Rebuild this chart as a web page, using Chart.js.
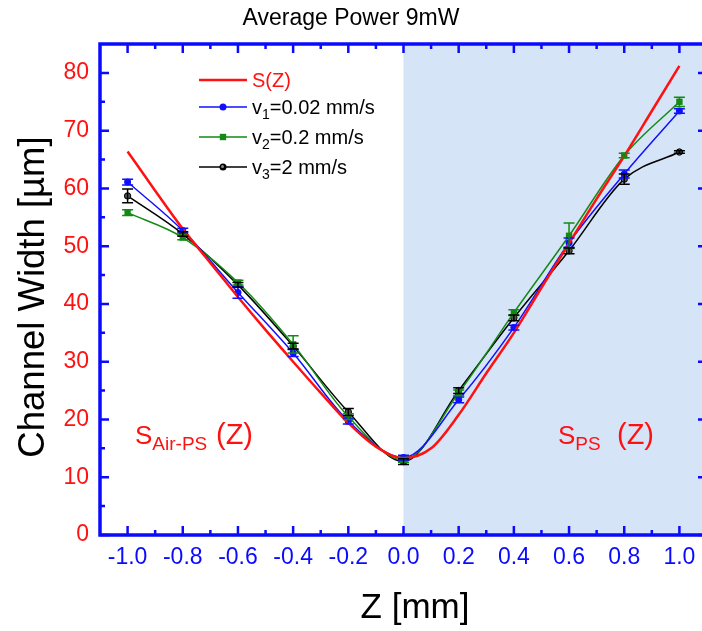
<!DOCTYPE html>
<html>
<head>
<meta charset="utf-8">
<script src="https://cdn.jsdelivr.net/npm/chart.js@4.4.1/dist/chart.umd.min.js"></script>
<style>
  html, body { margin: 0; padding: 0; background: #ffffff; overflow: hidden; width: 702px; height: 631px; }
  #wrap { width: 702px; height: 631px; position: relative; overflow: hidden; }
  #c { position: absolute; left: 0; top: 0; }
</style>
</head>
<body>
<div id="wrap"><canvas id="c" width="712" height="631"></canvas></div>
<script>
// ---------- data ----------
const zValues = [-1.0, -0.8, -0.6, -0.4, -0.2, 0.0, 0.2, 0.4, 0.6, 0.8, 1.0];
const v1Width = [61.1, 52.7, 42.0, 31.5, 19.7, 13.4, 23.4, 35.9, 50.6, 62.5, 73.4];
const v1Err   = [0.5, 0.4, 1.0, 0.6, 0.5, 0.4, 0.5, 0.4, 0.8, 0.7, 0.4];
const v2Width = [55.8, 51.5, 43.7, 33.0, 20.5, 13.0, 24.6, 38.5, 51.8, 65.7, 75.0];
const v2Err   = [0.5, 0.4, 0.4, 1.5, 0.5, 0.4, 0.5, 0.5, 2.2, 0.4, 0.8];
const v3Width = [58.7, 52.1, 43.3, 32.7, 21.3, 12.7, 25.0, 37.6, 49.2, 61.6, 66.3];
const v3Err   = [1.2, 0.4, 0.4, 0.5, 0.6, 0.5, 0.5, 0.5, 0.5, 0.9, 0.2];

const sZ     = [-1.0, -0.9, -0.8, -0.7, -0.6, -0.5, -0.4, -0.3, -0.2, -0.1, 0.0,
                 0.1, 0.2, 0.3, 0.4, 0.5, 0.6, 0.7, 0.8, 0.9, 1.0];
const sWidth = [66.4, 59.6, 53.0, 47.1, 41.2, 35.5, 30.0, 24.6, 19.4, 15.3, 13.3,
                15.0, 20.8, 28.0, 35.0, 42.8, 50.5, 58.2, 65.6, 73.4, 81.2];

const xTickValues = [-1.0, -0.8, -0.6, -0.4, -0.2, 0.0, 0.2, 0.4, 0.6, 0.8, 1.0];
const yTickValues = [0, 10, 20, 30, 40, 50, 60, 70, 80];

const titleText = "Average Power 9mW";
const xTitle = "Z [mm]";
const yTitle = "Channel Width [µm]";

// ---------- styling ----------
const FONT = "'Liberation Sans', Arial, sans-serif";
const AXIS_BLUE = '#0a0aff';
const RED = '#ff1111';
const BLUE = '#1010ff';
const GREEN = '#138a13';
const BLACK = '#000000';
const SHADE = '#d6e4f8';

const pts = (xs, ys) => xs.map((x, i) => ({ x: x, y: ys[i] }));

const shadePlugin = {
  id: 'shade',
  beforeDatasetsDraw(chart) {
    const { ctx, chartArea, scales } = chart;
    const x0 = scales.x.getPixelForValue(0);
    ctx.save();
    ctx.fillStyle = SHADE;
    ctx.fillRect(x0, chartArea.top, chartArea.right - x0, chartArea.bottom - chartArea.top);
    ctx.restore();
  }
};

const errorPlugin = {
  id: 'errbars',
  afterDatasetsDraw(chart) {
    const { ctx, scales } = chart;
    chart.data.datasets.forEach((ds) => {
      if (!ds.errors) return;
      ctx.save();
      ctx.strokeStyle = ds.borderColor;
      ctx.lineWidth = 1.5;
      ds.data.forEach((p, i) => {
        const e = ds.errors[i];
        const x = scales.x.getPixelForValue(p.x);
        const yt = scales.y.getPixelForValue(p.y + e);
        const yb = scales.y.getPixelForValue(p.y - e);
        ctx.beginPath();
        ctx.moveTo(x, yt); ctx.lineTo(x, yb);
        ctx.moveTo(x - 5.5, yt); ctx.lineTo(x + 5.5, yt);
        ctx.moveTo(x - 5.5, yb); ctx.lineTo(x + 5.5, yb);
        ctx.stroke();
      });
      ctx.restore();
    });
  }
};

function drawRich(ctx, parts, x, y, color) {
  ctx.save();
  ctx.fillStyle = color;
  ctx.textBaseline = 'alphabetic';
  ctx.textAlign = 'left';
  let cx = x;
  parts.forEach(p => {
    ctx.font = p.size + 'px ' + FONT;
    if (p.at !== undefined) cx = p.at;
    ctx.fillText(p.t, cx, y + (p.dy || 0));
    cx += ctx.measureText(p.t).width;
  });
  ctx.restore();
}

const framePlugin = {
  id: 'frame',
  afterDraw(chart) {
    const { ctx, chartArea: a, scales } = chart;
    ctx.save();
    ctx.strokeStyle = AXIS_BLUE;
    ctx.lineWidth = 2.5;
    const xs = xTickValues;
    const xMinor = [];
    for (let i = 0; i < xs.length - 1; i++) xMinor.push((xs[i] + xs[i + 1]) / 2);
    const ys = yTickValues;
    const yMinor = [];
    for (let i = 0; i < ys.length - 1; i++) yMinor.push((ys[i] + ys[i + 1]) / 2);
    ctx.beginPath();
    xs.forEach(v => {
      const px = scales.x.getPixelForValue(v);
      ctx.moveTo(px, a.bottom); ctx.lineTo(px, a.bottom - 9);
      ctx.moveTo(px, a.top); ctx.lineTo(px, a.top + 9);
    });
    xMinor.forEach(v => {
      const px = scales.x.getPixelForValue(v);
      ctx.moveTo(px, a.bottom); ctx.lineTo(px, a.bottom - 5);
      ctx.moveTo(px, a.top); ctx.lineTo(px, a.top + 5);
    });
    ys.forEach(v => {
      const py = scales.y.getPixelForValue(v);
      ctx.moveTo(a.left, py); ctx.lineTo(a.left + 9, py);
      ctx.moveTo(a.right, py); ctx.lineTo(a.right - 9, py);
    });
    yMinor.forEach(v => {
      const py = scales.y.getPixelForValue(v);
      ctx.moveTo(a.left, py); ctx.lineTo(a.left + 5, py);
      ctx.moveTo(a.right, py); ctx.lineTo(a.right - 5, py);
    });
    ctx.stroke();
    ctx.lineWidth = 3.5;
    ctx.strokeRect(a.left, a.top, a.right - a.left, a.bottom - a.top);

    ctx.fillStyle = '#000';
    ctx.textAlign = 'center';
    ctx.textBaseline = 'middle';
    ctx.font = '23px ' + FONT;
    ctx.fillText(titleText, 351, 19);

    ctx.font = '35px ' + FONT;
    ctx.fillText(xTitle, 415, 608);
    ctx.save();
    ctx.font = '36.5px ' + FONT;
    ctx.translate(34, 297);
    ctx.rotate(-Math.PI / 2);
    ctx.fillText(yTitle, 0, 0);
    ctx.restore();

    drawRich(ctx, [{ t: 'S', size: 26 }, { t: 'Air-PS', size: 19, dy: 6 }, { t: '(Z)', size: 29, at: 216 }], 135, 444, RED);
    drawRich(ctx, [{ t: 'S', size: 26 }, { t: 'PS', size: 19, dy: 6 }, { t: '(Z)', size: 29, at: 617 }], 558, 444, RED);

    const lx0 = 199, lx1 = 247, tx = 252;
    const rows = [
      { y: 80, color: RED, lw: 2.5, marker: null, parts: [{ t: 'S(Z)', size: 20 }], tc: RED },
      { y: 107, color: BLUE, lw: 1.5, marker: 'circle', parts: [{ t: 'v', size: 20 }, { t: '1', size: 14, dy: 5 }, { t: '=0.02 mm/s', size: 20 }], tc: '#000' },
      { y: 137, color: GREEN, lw: 1.5, marker: 'rect', parts: [{ t: 'v', size: 20 }, { t: '2', size: 14, dy: 5 }, { t: '=0.2 mm/s', size: 20 }], tc: '#000' },
      { y: 167, color: BLACK, lw: 1.5, marker: 'ball', parts: [{ t: 'v', size: 20 }, { t: '3', size: 14, dy: 5 }, { t: '=2 mm/s', size: 20 }], tc: '#000' }
    ];
    rows.forEach(r => {
      ctx.strokeStyle = r.color;
      ctx.lineWidth = r.lw;
      ctx.beginPath(); ctx.moveTo(lx0, r.y); ctx.lineTo(lx1, r.y); ctx.stroke();
      const mx = (lx0 + lx1) / 2;
      if (r.marker === 'circle') {
        ctx.fillStyle = r.color; ctx.beginPath(); ctx.arc(mx, r.y, 3.5, 0, Math.PI * 2); ctx.fill();
      } else if (r.marker === 'rect') {
        ctx.fillStyle = r.color; ctx.fillRect(mx - 3.2, r.y - 3.2, 6.4, 6.4);
      } else if (r.marker === 'ball') {
        ctx.fillStyle = '#000'; ctx.beginPath(); ctx.arc(mx, r.y, 3.5, 0, Math.PI * 2); ctx.fill();
        ctx.fillStyle = '#888'; ctx.beginPath(); ctx.arc(mx - 0.5, r.y - 0.5, 1.5, 0, Math.PI * 2); ctx.fill();
      }
      drawRich(ctx, r.parts, tx, r.y + 7, r.tc);
    });
    ctx.restore();
  }
};

const chart = new Chart(document.getElementById('c'), {
  type: 'line',
  data: {
    datasets: [
      { label: 'S(Z)', data: pts(sZ, sWidth), borderColor: RED, borderWidth: 2.5,
        pointRadius: 0, cubicInterpolationMode: 'monotone', fill: false },
      { label: 'v1=0.02 mm/s', data: pts(zValues, v1Width), errors: v1Err, borderColor: BLUE, backgroundColor: BLUE,
        borderWidth: 1.5, pointStyle: 'circle', pointRadius: 3.5, pointBorderWidth: 0,
        cubicInterpolationMode: 'monotone', fill: false },
      { label: 'v2=0.2 mm/s', data: pts(zValues, v2Width), errors: v2Err, borderColor: GREEN, backgroundColor: GREEN,
        borderWidth: 1.5, pointStyle: 'rect', pointRadius: 4.5, pointBorderWidth: 0,
        cubicInterpolationMode: 'monotone', fill: false },
      { label: 'v3=2 mm/s', data: pts(zValues, v3Width), errors: v3Err, borderColor: BLACK, backgroundColor: '#555',
        borderWidth: 1.5, pointStyle: 'circle', pointRadius: 3.2, pointBorderWidth: 1, pointBorderColor: '#000',
        cubicInterpolationMode: 'monotone', fill: false }
    ]
  },
  options: {
    responsive: false,
    animation: false,
    devicePixelRatio: 1,
    layout: { padding: { left: 0, top: 44, right: 5, bottom: 0 } },
    plugins: { legend: { display: false }, title: { display: false }, tooltip: { enabled: false } },
    scales: {
      x: {
        type: 'linear', min: -1.1, max: 1.1,
        grid: { display: false, drawTicks: false },
        border: { display: false },
        afterBuildTicks: (s) => { s.ticks = xTickValues.map(v => ({ value: v })); },
        afterFit: (s) => { s.height = 96; s.paddingLeft = 0; s.paddingRight = 0; },
        ticks: {
          color: AXIS_BLUE, padding: 9, maxRotation: 0, autoSkip: false,
          font: { family: FONT, size: 23 },
          callback: (v) => Number(v).toFixed(1)
        }
      },
      y: {
        type: 'linear', min: 0, max: 85,
        grid: { display: false, drawTicks: false },
        border: { display: false },
        afterBuildTicks: (s) => { s.ticks = yTickValues.map(v => ({ value: v })); },
        afterFit: (s) => { s.width = 100; s.paddingTop = 0; s.paddingBottom = 0; },
        ticks: {
          color: RED, padding: 11, autoSkip: false,
          font: { family: FONT, size: 23 },
          callback: (v) => String(v)
        }
      }
    }
  },
  plugins: [shadePlugin, errorPlugin, framePlugin]
});
</script>
</body>
</html>
